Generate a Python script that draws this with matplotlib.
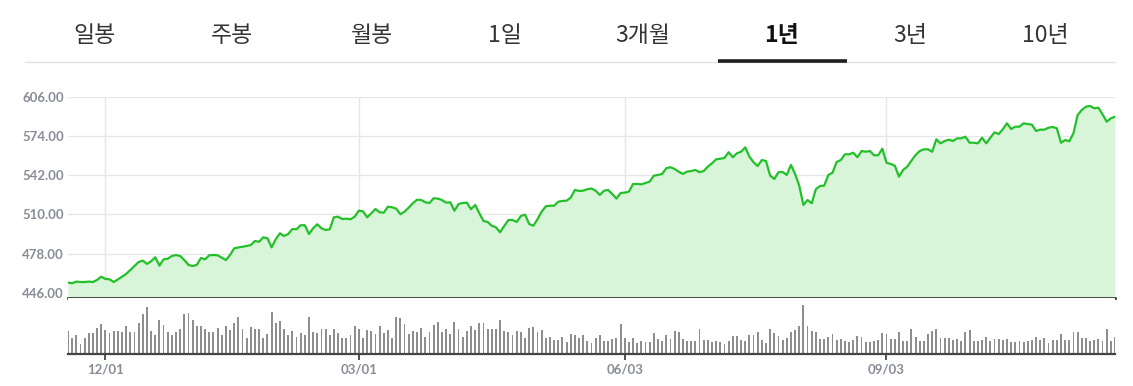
"""
plot.py -- 1년 가격/거래량 차트 (정적 재현)

Oben: Tab-Leiste, Mitte: Kursverlauf mit Flaeche, unten: Volumen-Balken.
Speichert out.png (1133x386).
"""

import matplotlib
matplotlib.use("Agg")
import matplotlib.pyplot as plt
from matplotlib.lines import Line2D
from matplotlib.ticker import FuncFormatter

# --- Daten -----------------------------------------------------------------
tabs = ["일봉", "주봉", "월봉", "1일", "3개월", "1년", "3년", "10년"]
aktiver_tab = "1년"

# Schlusskurse, ein Wert pro Handelstag
kurs = [
    454.2, 453.7, 455.0, 454.7, 454.7, 455.0, 454.7, 456.4, 459.1, 457.2,
    456.9, 454.7, 456.8, 459.1, 461.3, 464.6, 467.8, 471.1, 472.2, 469.5,
    471.7, 475.0, 468.1, 473.3, 473.8, 476.0, 476.8, 476.0, 472.7, 468.7,
    467.8, 468.7, 474.4, 473.3, 476.6, 476.8, 476.6, 474.6, 472.7, 476.8,
    482.3, 483.0, 483.6, 484.2, 485.0, 488.3, 487.7, 491.3, 490.5, 483.1,
    489.7, 494.6, 492.4, 494.0, 498.1, 497.9, 501.2, 501.2, 494.0, 498.7,
    502.0, 498.7, 497.3, 497.9, 507.7, 508.2, 506.3, 506.6, 506.1, 508.2,
    513.1, 512.6, 507.7, 511.0, 514.5, 511.8, 511.5, 516.4, 515.9, 514.8,
    510.2, 512.3, 515.6, 519.2, 522.1, 521.9, 520.0, 519.4, 523.3, 523.0,
    521.9, 519.7, 520.0, 513.1, 518.6, 519.4, 519.7, 514.3, 517.8, 511.0,
    504.7, 503.9, 500.8, 499.5, 495.4, 500.6, 505.5, 505.5, 503.9, 508.8,
    509.9, 502.2, 500.8, 506.1, 512.3, 516.7, 517.2, 517.2, 520.5, 521.1,
    521.3, 523.8, 530.1, 529.3, 529.5, 530.7, 531.3, 529.5, 526.0, 529.5,
    530.1, 526.8, 523.0, 527.6, 527.9, 528.7, 535.0, 535.0, 534.7, 535.8,
    536.9, 541.8, 542.4, 543.2, 547.9, 548.7, 547.3, 545.1, 543.2, 545.1,
    545.6, 546.5, 544.6, 545.6, 549.2, 551.9, 555.2, 555.7, 556.3, 561.0,
    556.9, 560.1, 561.4, 565.0, 557.4, 552.8, 549.7, 554.6, 553.8, 541.8,
    539.1, 544.6, 544.8, 542.4, 550.6, 543.2, 533.6, 517.8, 521.9, 519.2,
    530.7, 533.4, 533.6, 542.4, 544.2, 553.0, 554.6, 559.3, 559.3, 560.6,
    556.9, 562.0, 561.4, 562.0, 558.5, 558.5, 563.9, 552.4, 551.4, 550.0,
    541.0, 546.5, 549.2, 554.1, 558.7, 562.0, 563.4, 563.4, 561.4, 571.6,
    568.3, 570.2, 571.3, 570.2, 572.4, 572.4, 573.7, 568.8, 568.8, 568.3,
    572.9, 568.3, 572.9, 577.3, 575.9, 579.8, 584.7, 580.0, 581.9, 581.9,
    584.7, 584.1, 583.6, 578.4, 579.5, 579.5, 581.1, 581.7, 580.6, 568.8,
    571.0, 570.0, 576.5, 591.5, 595.6, 598.3, 598.9, 597.0, 597.5, 592.1,
    586.0, 588.8, 590.1,
]

# Volumen (Mio. Stueck), gleiche Tage wie kurs
volumen = [
    70, 48, 58, 30, 48, 63, 63, 78, 91, 71, 64, 69, 69, 67, 84, 66, 67, 93, 120, 142,
    69, 57, 103, 88, 67, 57, 67, 76, 121, 123, 103, 85, 85, 75, 66, 67, 78, 58, 85, 71,
    93, 111, 76, 48, 82, 74, 75, 48, 59, 126, 93, 100, 76, 57, 69, 52, 63, 57, 112, 67,
    63, 75, 74, 58, 75, 62, 48, 48, 57, 84, 76, 49, 72, 69, 59, 85, 64, 72, 48, 110,
    108, 91, 61, 70, 65, 79, 50, 66, 88, 97, 65, 75, 59, 97, 75, 50, 69, 85, 71, 93,
    93, 75, 75, 75, 102, 68, 65, 58, 70, 67, 48, 78, 82, 65, 73, 47, 51, 43, 43, 52,
    35, 59, 58, 49, 58, 38, 34, 49, 57, 40, 39, 45, 47, 91, 48, 35, 48, 32, 40, 37,
    37, 64, 44, 40, 57, 45, 69, 66, 45, 39, 39, 39, 75, 41, 41, 35, 39, 37, 29, 39,
    55, 55, 41, 38, 57, 58, 66, 43, 34, 75, 62, 55, 43, 48, 65, 73, 83,
    148, 85, 69, 65, 45, 45, 51, 61, 41, 46, 38, 36, 41, 53, 50, 35, 36, 40, 41, 63,
    61, 45, 46, 67, 40, 38, 75, 52, 38, 38, 60, 70, 75, 48, 48, 48, 43, 44, 40, 65,
    73, 40, 40, 41, 50, 40, 45, 45, 41, 44, 35, 35, 38, 36, 38, 41, 50, 43, 48, 33,
    43, 43, 61, 43, 43, 65, 66, 48, 48, 40, 43, 45, 38, 75, 38, 50,
]

datum_tage = [9, 70, 134, 197]          # Handelstag-Index der Datumsmarken
datum_labels = ["12/01", "03/01", "06/03", "09/03"]
kurs_ticks = [446, 478, 510, 542, 574, 606]

# --- Stil ------------------------------------------------------------------
GRUEN = "#22c129"
FLAECHE = "#d9f5d9"
GRID = "#e6e6e6"
LABEL_GRAU = "#878c96"
BALKEN = "#8e8e8e"

plt.rcParams["font.family"] = ["Lato", "DejaVu Sans"]

B, H = 1133, 386
fig = plt.figure(figsize=(B / 100, H / 100), dpi=100)


def fx(px):
    return px / B


def fy(py):
    return 1 - py / H


# --- Tab-Leiste ------------------------------------------------------------
tab_x = [94.6, 232.4, 371.6, 504.5, 642.7, 781.8, 910.7, 1045.3]
for name, x in zip(tabs, tab_x):
    aktiv = name == aktiver_tab
    fig.text(fx(x), fy(35), name, ha="center", va="center", fontsize=16.5,
             family=["Noto Sans CJK KR", "DejaVu Sans"],
             fontweight="bold" if aktiv else "normal",
             color="#111111" if aktiv else "#333333")

fig.add_artist(Line2D([fx(25), fx(1115)], [fy(61.5), fy(61.5)],
                      color="#e3e3e3", linewidth=1.0))
fig.add_artist(Line2D([fx(718), fx(847)], [fy(60.5), fy(60.5)],
                      color="#1e1e1e", linewidth=2.6, solid_capstyle="butt"))

# --- Kurs ------------------------------------------------------------------
n = len(kurs)
tage = list(range(n))
y_unten = 441.6

ax1 = fig.add_axes([fx(68), fy(298), fx(1115) - fx(68), fy(97.3) - fy(298)])
ax1.fill_between(tage, kurs, y_unten, color=FLAECHE, linewidth=0)
ax1.plot(tage, kurs, color=GRUEN, linewidth=1.6, solid_joinstyle="round")
ax1.set_xlim(0, n - 1)
ax1.set_ylim(y_unten, 606)
ax1.set_yticks(kurs_ticks)
ax1.yaxis.set_major_formatter(FuncFormatter(lambda v, p: f"{v:.2f}"))
ax1.set_xticks(datum_tage)
ax1.set_xticklabels([])
ax1.grid(True, color=GRID, linewidth=1.0)
ax1.set_axisbelow(True)
ax1.tick_params(axis="y", length=0, pad=3, labelsize=9.5, labelcolor=LABEL_GRAU)
ax1.tick_params(axis="x", length=0)
for lbl in ax1.get_yticklabels():
    lbl.set_fontweight("bold")
for s in ["top", "left", "right"]:
    ax1.spines[s].set_visible(False)
ax1.spines["bottom"].set_color("#1a1a1a")
ax1.spines["bottom"].set_linewidth(1.8)
ax1.spines["bottom"].set_zorder(5)

# --- Volumen ---------------------------------------------------------------
ax2 = fig.add_axes([fx(68), fy(354), fx(1115) - fx(68), fy(298) - fy(354)])
ax2.bar(tage, volumen, width=0.45, color=BALKEN, linewidth=0)
ax2.set_xlim(0, n - 1)
ax2.set_ylim(0, 168)
ax2.set_yticks([])
ax2.set_xticks(datum_tage)
ax2.set_xticklabels(datum_labels)
ax2.tick_params(axis="x", direction="out", length=4, width=1.2, color="#333333",
                pad=3, labelsize=9.5, labelcolor=LABEL_GRAU)
for lbl in ax2.get_xticklabels():
    lbl.set_fontweight("bold")
for s in ["top", "left", "right"]:
    ax2.spines[s].set_visible(False)
ax2.spines["bottom"].set_color("#444444")
ax2.spines["bottom"].set_linewidth(1.6)

fig.savefig("out.png", dpi=100)
